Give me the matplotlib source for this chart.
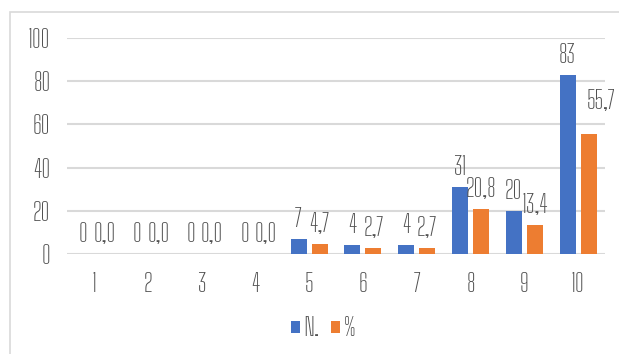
import numpy as np
import matplotlib.pyplot as plt
from matplotlib.patches import Rectangle

categories = ['1', '2', '3', '4', '5', '6', '7', '8', '9', '10']
n_values = [0, 0, 0, 0, 7, 4, 4, 31, 20, 83]
pct_values = [0.0, 0.0, 0.0, 0.0, 4.7, 2.7, 2.7, 20.8, 13.4, 55.7]
n_labels = ['0', '0', '0', '0', '7', '4', '4', '31', '20', '83']
pct_labels = ['0,0', '0,0', '0,0', '0,0', '4,7', '2,7', '2,7', '20,8', '13,4', '55,7']

plt.rcParams['font.family'] = ['Big Shoulders Text', 'DejaVu Sans']

text_col = '#505050'
blue = '#4472C4'
orange = '#ED7D31'
fs = 18

fig = plt.figure(figsize=(6.19, 3.54), dpi=100)
fig.patches.append(Rectangle((10 / 619, -0.1), 1.0, 1.1 - 12 / 354,
                             transform=fig.transFigure, fill=False,
                             edgecolor='#d9d9d9', linewidth=1.2))
ax = fig.add_axes([67 / 619, 1 - 254 / 354, 538 / 619, 216 / 354])

x = np.arange(len(categories))
w = 0.3
off = 0.195
b1 = ax.bar(x - off, n_values, w, color=blue, label='N.')
b2 = ax.bar(x + off, pct_values, w, color=orange, label='%')
ax.bar_label(b1, labels=n_labels, padding=5, color=text_col, fontsize=fs)
t2 = ax.bar_label(b2, labels=pct_labels, padding=5, color=text_col, fontsize=fs)
# last label sits up and to the right in the original
t2[-1].xyann = (9, 14)

ax.set_xlim(-0.5, 9.5)
ax.set_ylim(0, 100)
ax.set_yticks([0, 20, 40, 60, 80, 100])
ax.set_xticks(x)
ax.set_xticklabels(categories)
ax.tick_params(length=0, colors=text_col, labelsize=fs)
ax.tick_params(axis='y', pad=12)
ax.tick_params(axis='x', pad=13)
ax.yaxis.grid(True, color='#d9d9d9', linewidth=1.5)
ax.set_axisbelow(True)
for s in ax.spines.values():
    s.set_visible(False)

ax.legend(loc='center', bbox_to_anchor=(0.476, -0.345), ncol=2, frameon=False,
          fontsize=fs, labelcolor=text_col, handlelength=0.36, handleheight=0.36,
          handletextpad=0.15, columnspacing=0.45)

fig.savefig('out.png', dpi=100)
